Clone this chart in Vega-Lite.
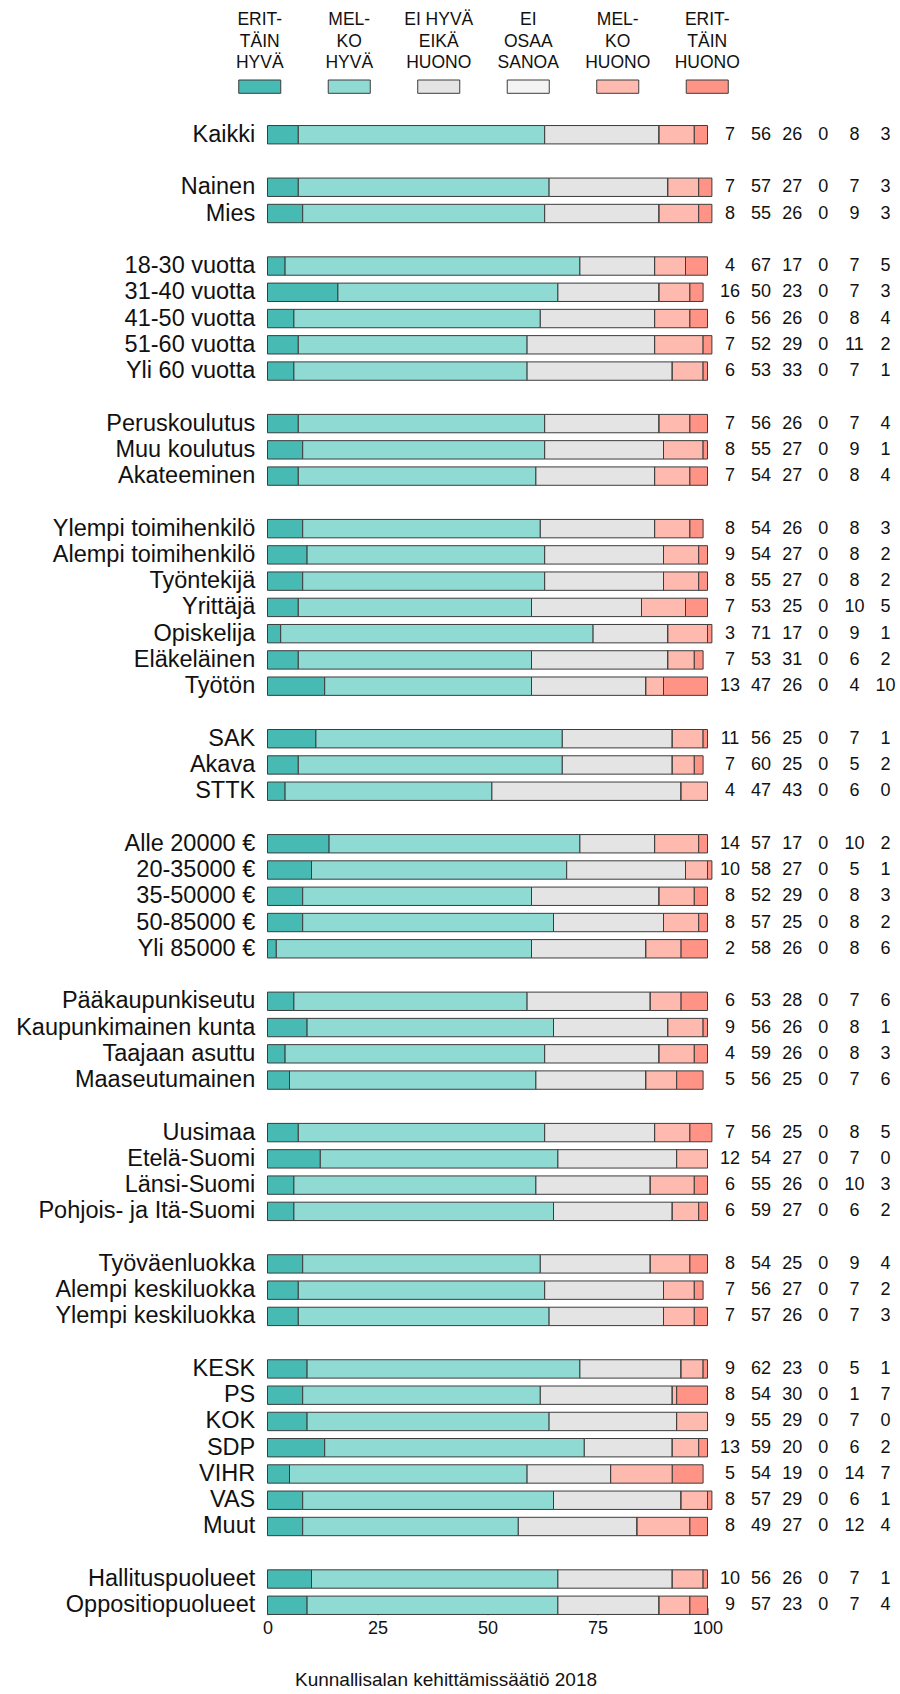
{
  "$schema": "https://vega.github.io/schema/vega-lite/v6.json",
  "padding": {"left": 16, "top": 11, "right": 0, "bottom": 0},
  "config": {
    "view": {"stroke": null},
    "font": "Liberation Sans",
    "text": {"font": "Liberation Sans", "color": "#111111"}
  },
  "datasets": {
    "vastaukset": [
      {"key": "erit_hyva", "nro": 1, "nimi": "ERIT-\nTÄIN\nHYVÄ"},
      {"key": "melko_hyva", "nro": 2, "nimi": "MEL-\nKO\nHYVÄ"},
      {"key": "ei_kumpikaan", "nro": 3, "nimi": "EI HYVÄ\nEIKÄ\nHUONO"},
      {"key": "eos", "nro": 4, "nimi": "EI\nOSAA\nSANOA"},
      {"key": "melko_huono", "nro": 5, "nimi": "MEL-\nKO\nHUONO"},
      {"key": "erit_huono", "nro": 6, "nimi": "ERIT-\nTÄIN\nHUONO"}
    ],
    "tulokset": [
      {"ryhma": "Kaikki", "erit_hyva": 7, "melko_hyva": 56, "ei_kumpikaan": 26, "eos": 0, "melko_huono": 8, "erit_huono": 3},
      {"ryhma": "Nainen", "erit_hyva": 7, "melko_hyva": 57, "ei_kumpikaan": 27, "eos": 0, "melko_huono": 7, "erit_huono": 3},
      {"ryhma": "Mies", "erit_hyva": 8, "melko_hyva": 55, "ei_kumpikaan": 26, "eos": 0, "melko_huono": 9, "erit_huono": 3},
      {"ryhma": "18-30 vuotta", "erit_hyva": 4, "melko_hyva": 67, "ei_kumpikaan": 17, "eos": 0, "melko_huono": 7, "erit_huono": 5},
      {"ryhma": "31-40 vuotta", "erit_hyva": 16, "melko_hyva": 50, "ei_kumpikaan": 23, "eos": 0, "melko_huono": 7, "erit_huono": 3},
      {"ryhma": "41-50 vuotta", "erit_hyva": 6, "melko_hyva": 56, "ei_kumpikaan": 26, "eos": 0, "melko_huono": 8, "erit_huono": 4},
      {"ryhma": "51-60 vuotta", "erit_hyva": 7, "melko_hyva": 52, "ei_kumpikaan": 29, "eos": 0, "melko_huono": 11, "erit_huono": 2},
      {"ryhma": "Yli 60 vuotta", "erit_hyva": 6, "melko_hyva": 53, "ei_kumpikaan": 33, "eos": 0, "melko_huono": 7, "erit_huono": 1},
      {"ryhma": "Peruskoulutus", "erit_hyva": 7, "melko_hyva": 56, "ei_kumpikaan": 26, "eos": 0, "melko_huono": 7, "erit_huono": 4},
      {"ryhma": "Muu koulutus", "erit_hyva": 8, "melko_hyva": 55, "ei_kumpikaan": 27, "eos": 0, "melko_huono": 9, "erit_huono": 1},
      {"ryhma": "Akateeminen", "erit_hyva": 7, "melko_hyva": 54, "ei_kumpikaan": 27, "eos": 0, "melko_huono": 8, "erit_huono": 4},
      {"ryhma": "Ylempi toimihenkilö", "erit_hyva": 8, "melko_hyva": 54, "ei_kumpikaan": 26, "eos": 0, "melko_huono": 8, "erit_huono": 3},
      {"ryhma": "Alempi toimihenkilö", "erit_hyva": 9, "melko_hyva": 54, "ei_kumpikaan": 27, "eos": 0, "melko_huono": 8, "erit_huono": 2},
      {"ryhma": "Työntekijä", "erit_hyva": 8, "melko_hyva": 55, "ei_kumpikaan": 27, "eos": 0, "melko_huono": 8, "erit_huono": 2},
      {"ryhma": "Yrittäjä", "erit_hyva": 7, "melko_hyva": 53, "ei_kumpikaan": 25, "eos": 0, "melko_huono": 10, "erit_huono": 5},
      {"ryhma": "Opiskelija", "erit_hyva": 3, "melko_hyva": 71, "ei_kumpikaan": 17, "eos": 0, "melko_huono": 9, "erit_huono": 1},
      {"ryhma": "Eläkeläinen", "erit_hyva": 7, "melko_hyva": 53, "ei_kumpikaan": 31, "eos": 0, "melko_huono": 6, "erit_huono": 2},
      {"ryhma": "Työtön", "erit_hyva": 13, "melko_hyva": 47, "ei_kumpikaan": 26, "eos": 0, "melko_huono": 4, "erit_huono": 10},
      {"ryhma": "SAK", "erit_hyva": 11, "melko_hyva": 56, "ei_kumpikaan": 25, "eos": 0, "melko_huono": 7, "erit_huono": 1},
      {"ryhma": "Akava", "erit_hyva": 7, "melko_hyva": 60, "ei_kumpikaan": 25, "eos": 0, "melko_huono": 5, "erit_huono": 2},
      {"ryhma": "STTK", "erit_hyva": 4, "melko_hyva": 47, "ei_kumpikaan": 43, "eos": 0, "melko_huono": 6, "erit_huono": 0},
      {"ryhma": "Alle 20000 €", "erit_hyva": 14, "melko_hyva": 57, "ei_kumpikaan": 17, "eos": 0, "melko_huono": 10, "erit_huono": 2},
      {"ryhma": "20-35000 €", "erit_hyva": 10, "melko_hyva": 58, "ei_kumpikaan": 27, "eos": 0, "melko_huono": 5, "erit_huono": 1},
      {"ryhma": "35-50000 €", "erit_hyva": 8, "melko_hyva": 52, "ei_kumpikaan": 29, "eos": 0, "melko_huono": 8, "erit_huono": 3},
      {"ryhma": "50-85000 €", "erit_hyva": 8, "melko_hyva": 57, "ei_kumpikaan": 25, "eos": 0, "melko_huono": 8, "erit_huono": 2},
      {"ryhma": "Yli 85000 €", "erit_hyva": 2, "melko_hyva": 58, "ei_kumpikaan": 26, "eos": 0, "melko_huono": 8, "erit_huono": 6},
      {"ryhma": "Pääkaupunkiseutu", "erit_hyva": 6, "melko_hyva": 53, "ei_kumpikaan": 28, "eos": 0, "melko_huono": 7, "erit_huono": 6},
      {"ryhma": "Kaupunkimainen kunta", "erit_hyva": 9, "melko_hyva": 56, "ei_kumpikaan": 26, "eos": 0, "melko_huono": 8, "erit_huono": 1},
      {"ryhma": "Taajaan asuttu", "erit_hyva": 4, "melko_hyva": 59, "ei_kumpikaan": 26, "eos": 0, "melko_huono": 8, "erit_huono": 3},
      {"ryhma": "Maaseutumainen", "erit_hyva": 5, "melko_hyva": 56, "ei_kumpikaan": 25, "eos": 0, "melko_huono": 7, "erit_huono": 6},
      {"ryhma": "Uusimaa", "erit_hyva": 7, "melko_hyva": 56, "ei_kumpikaan": 25, "eos": 0, "melko_huono": 8, "erit_huono": 5},
      {"ryhma": "Etelä-Suomi", "erit_hyva": 12, "melko_hyva": 54, "ei_kumpikaan": 27, "eos": 0, "melko_huono": 7, "erit_huono": 0},
      {"ryhma": "Länsi-Suomi", "erit_hyva": 6, "melko_hyva": 55, "ei_kumpikaan": 26, "eos": 0, "melko_huono": 10, "erit_huono": 3},
      {"ryhma": "Pohjois- ja Itä-Suomi", "erit_hyva": 6, "melko_hyva": 59, "ei_kumpikaan": 27, "eos": 0, "melko_huono": 6, "erit_huono": 2},
      {"ryhma": "Työväenluokka", "erit_hyva": 8, "melko_hyva": 54, "ei_kumpikaan": 25, "eos": 0, "melko_huono": 9, "erit_huono": 4},
      {"ryhma": "Alempi keskiluokka", "erit_hyva": 7, "melko_hyva": 56, "ei_kumpikaan": 27, "eos": 0, "melko_huono": 7, "erit_huono": 2},
      {"ryhma": "Ylempi keskiluokka", "erit_hyva": 7, "melko_hyva": 57, "ei_kumpikaan": 26, "eos": 0, "melko_huono": 7, "erit_huono": 3},
      {"ryhma": "KESK", "erit_hyva": 9, "melko_hyva": 62, "ei_kumpikaan": 23, "eos": 0, "melko_huono": 5, "erit_huono": 1},
      {"ryhma": "PS", "erit_hyva": 8, "melko_hyva": 54, "ei_kumpikaan": 30, "eos": 0, "melko_huono": 1, "erit_huono": 7},
      {"ryhma": "KOK", "erit_hyva": 9, "melko_hyva": 55, "ei_kumpikaan": 29, "eos": 0, "melko_huono": 7, "erit_huono": 0},
      {"ryhma": "SDP", "erit_hyva": 13, "melko_hyva": 59, "ei_kumpikaan": 20, "eos": 0, "melko_huono": 6, "erit_huono": 2},
      {"ryhma": "VIHR", "erit_hyva": 5, "melko_hyva": 54, "ei_kumpikaan": 19, "eos": 0, "melko_huono": 14, "erit_huono": 7},
      {"ryhma": "VAS", "erit_hyva": 8, "melko_hyva": 57, "ei_kumpikaan": 29, "eos": 0, "melko_huono": 6, "erit_huono": 1},
      {"ryhma": "Muut", "erit_hyva": 8, "melko_hyva": 49, "ei_kumpikaan": 27, "eos": 0, "melko_huono": 12, "erit_huono": 4},
      {"ryhma": "Hallituspuolueet", "erit_hyva": 10, "melko_hyva": 56, "ei_kumpikaan": 26, "eos": 0, "melko_huono": 7, "erit_huono": 1},
      {"ryhma": "Oppositiopuolueet", "erit_hyva": 9, "melko_hyva": 57, "ei_kumpikaan": 23, "eos": 0, "melko_huono": 7, "erit_huono": 4}
    ]
  },
  "bounds": "flush",
  "spacing": 27.6,
  "vconcat": [
    {
      "data": {"name": "vastaukset"},
      "width": 537,
      "height": 13.3,
      "encoding": {
        "x": {
          "field": "key",
          "type": "nominal",
          "scale": {
            "type": "band",
            "domain": ["erit_hyva", "melko_hyva", "ei_kumpikaan", "eos", "melko_huono", "erit_huono"],
            "paddingInner": 0.5307,
            "paddingOuter": 0.26535
          },
          "axis": null
        }
      },
      "layer": [
        {
          "mark": {"type": "bar", "stroke": "#3c3c3c", "strokeWidth": 1},
          "encoding": {
            "color": {
              "field": "key",
              "type": "nominal",
              "scale": {
                "domain": ["erit_hyva", "melko_hyva", "ei_kumpikaan", "eos", "melko_huono", "erit_huono"],
                "range": ["#46bab3", "#90dad4", "#e4e4e4", "#f3f3f3", "#ffbaaf", "#fe9386"]
              },
              "legend": null
            }
          }
        },
        {
          "mark": {"type": "text", "baseline": "alphabetic", "lineBreak": "\n", "lineHeight": 21.65, "fontSize": 17.5, "dy": -61.65},
          "encoding": {"text": {"field": "nimi", "type": "nominal"}}
        }
      ]
    },
    {
      "bounds": "flush",
      "spacing": 22.5,
      "resolve": {"scale": {"y": "shared"}},
      "hconcat": [
        {
          "data": {"name": "tulokset"},
          "width": 29.25,
          "height": 1496.8,
          "mark": {"type": "text", "align": "right", "baseline": "middle", "fontSize": 23.5, "dx": 11},
          "encoding": {
            "y": {
              "field": "ryhma",
              "type": "nominal",
              "scale": {
                "type": "band",
                "paddingInner": 0.3,
                "paddingOuter": 0.15,
                "domain": ["Kaikki", "väli1", "Nainen", "Mies", "väli2", "18-30 vuotta", "31-40 vuotta", "41-50 vuotta", "51-60 vuotta", "Yli 60 vuotta", "väli3", "Peruskoulutus", "Muu koulutus", "Akateeminen", "väli4", "Ylempi toimihenkilö", "Alempi toimihenkilö", "Työntekijä", "Yrittäjä", "Opiskelija", "Eläkeläinen", "Työtön", "väli5", "SAK", "Akava", "STTK", "väli6", "Alle 20000 €", "20-35000 €", "35-50000 €", "50-85000 €", "Yli 85000 €", "väli7", "Pääkaupunkiseutu", "Kaupunkimainen kunta", "Taajaan asuttu", "Maaseutumainen", "väli8", "Uusimaa", "Etelä-Suomi", "Länsi-Suomi", "Pohjois- ja Itä-Suomi", "väli9", "Työväenluokka", "Alempi keskiluokka", "Ylempi keskiluokka", "väli10", "KESK", "PS", "KOK", "SDP", "VIHR", "VAS", "Muut", "väli11", "Hallituspuolueet", "Oppositiopuolueet"]
              },
              "axis": null
            },
            "x": {"value": "width"},
            "text": {"field": "ryhma", "type": "nominal"}
          }
        },
        {
          "data": {"name": "tulokset"},
          "width": 440,
          "height": 1496.8,
          "transform": [
            {"fold": ["erit_hyva", "melko_hyva", "ei_kumpikaan", "eos", "melko_huono", "erit_huono"], "as": ["key", "osuus"]},
            {"lookup": "key", "from": {"data": {"name": "vastaukset"}, "key": "key", "fields": ["nro"]}}
          ],
          "mark": {"type": "bar", "stroke": "#3c3c3c", "strokeWidth": 1},
          "encoding": {
            "y": {"field": "ryhma", "type": "nominal", "axis": null},
            "x": {
              "field": "osuus",
              "type": "quantitative",
              "stack": "zero",
              "scale": {"domain": [0, 100], "nice": false},
              "axis": {
                "values": [0, 25, 50, 75, 100],
                "grid": false,
                "offset": -10.7,
                "domainColor": "#808080",
                "domainWidth": 1,
                "tickColor": "#333333",
                "tickSize": 7,
                "tickWidth": 1,
                "labelFlush": false,
                "labelFontSize": 18,
                "labelColor": "#111111",
                "labelPadding": 5,
                "labelFont": "Liberation Sans",
                "title": "Kunnallisalan kehittämissäätiö 2018",
                "titleFont": "Liberation Sans",
                "titleFontSize": 19,
                "titleFontWeight": "normal",
                "titleColor": "#111111",
                "titleAlign": "center",
                "titleBaseline": "alphabetic",
                "titleX": 178,
                "titleY": 78
              }
            },
            "color": {
              "field": "key",
              "type": "nominal",
              "scale": {
                "domain": ["erit_hyva", "melko_hyva", "ei_kumpikaan", "eos", "melko_huono", "erit_huono"],
                "range": ["#46bab3", "#90dad4", "#e4e4e4", "#f3f3f3", "#ffbaaf", "#fe9386"]
              },
              "legend": null
            },
            "order": {"field": "nro", "type": "quantitative"}
          }
        },
        {
          "data": {"name": "tulokset"},
          "width": 155.5,
          "height": 1496.8,
          "transform": [
            {"fold": ["erit_hyva", "melko_hyva", "ei_kumpikaan", "eos", "melko_huono", "erit_huono"], "as": ["key", "osuus"]}
          ],
          "mark": {"type": "text", "baseline": "middle", "fontSize": 18},
          "encoding": {
            "y": {"field": "ryhma", "type": "nominal", "axis": null},
            "x": {
              "field": "key",
              "type": "nominal",
              "scale": {"type": "point", "padding": 0, "domain": ["erit_hyva", "melko_hyva", "ei_kumpikaan", "eos", "melko_huono", "erit_huono"]},
              "axis": null
            },
            "text": {"field": "osuus", "type": "quantitative"}
          }
        }
      ]
    }
  ]
}
